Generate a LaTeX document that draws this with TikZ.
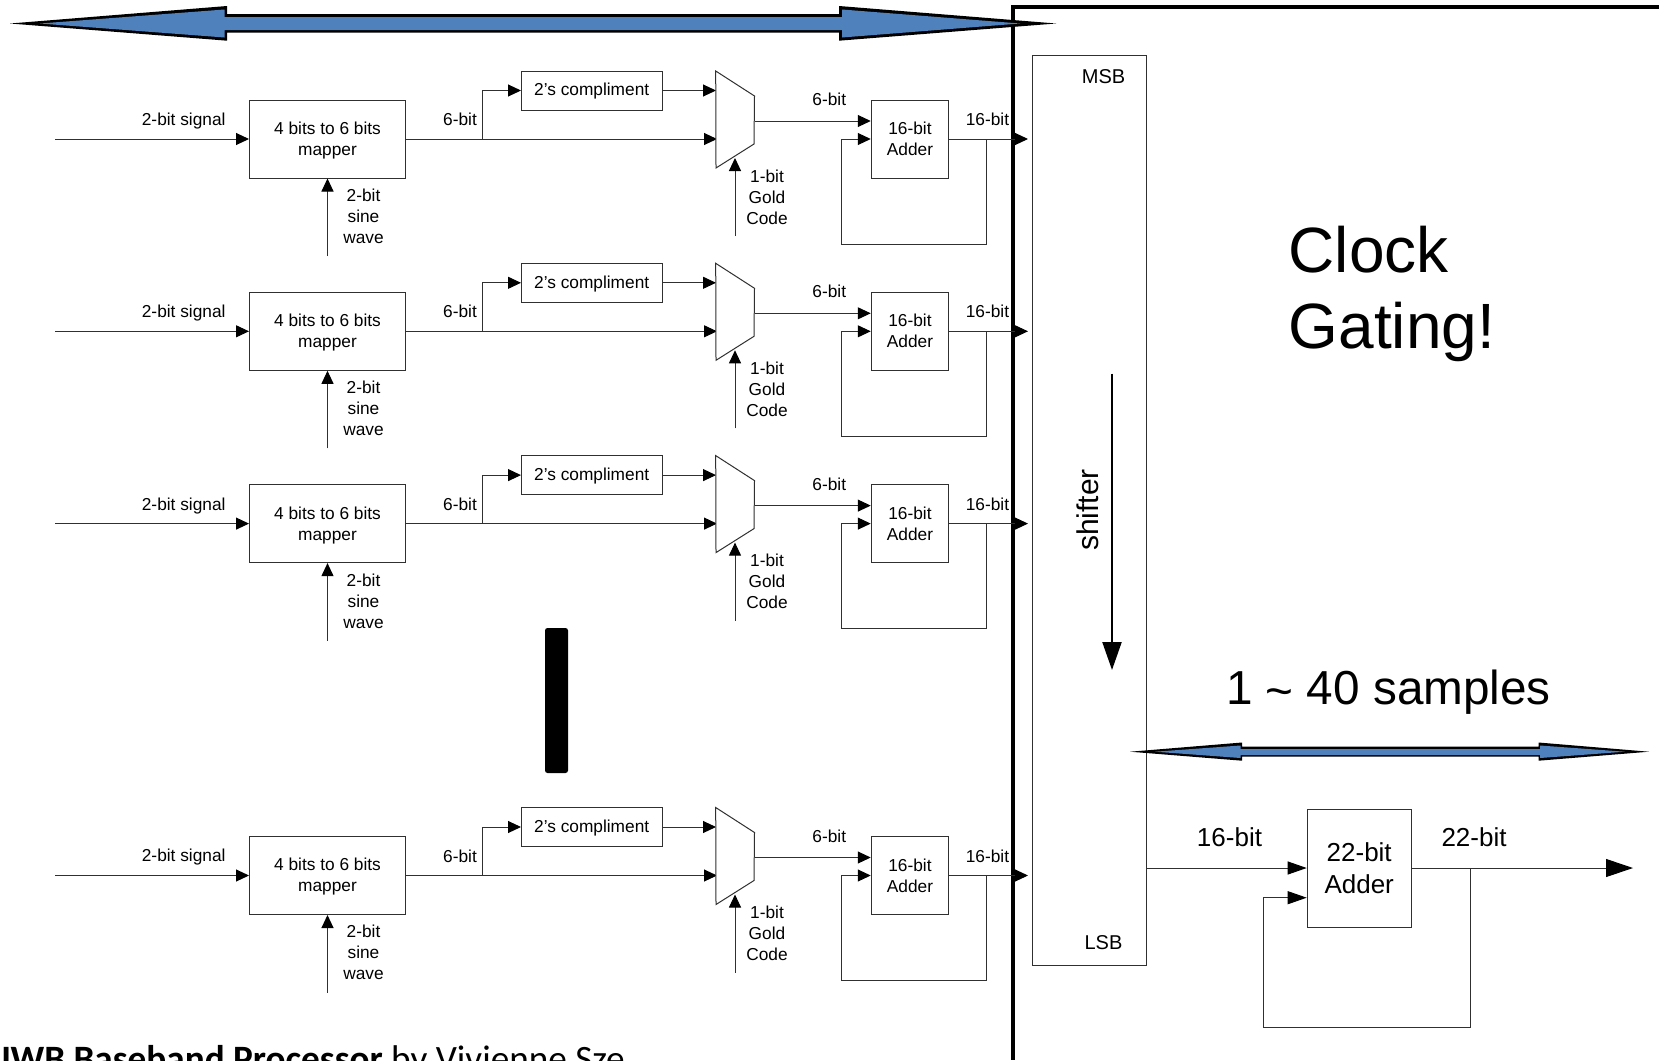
\documentclass[tikz,border=0pt]{standalone}
\usepackage{fontspec}
\setmainfont{Liberation Sans}
\newfontfamily\calfont{Carlito}
\usetikzlibrary{arrows.meta,calc}
\definecolor{arrowblue}{HTML}{4F81BD}
\definecolor{linegrey}{HTML}{303030}
\tikzset{
  blockbox/.style={draw=linegrey,line width=1pt,fill=white,inner sep=0pt,align=center,font=\fontsize{17.3}{21}\selectfont},
  lab/.style={inner sep=0pt,align=center,font=\fontsize{17.3}{21}\selectfont},
  midlab/.style={inner sep=0pt,align=center,font=\fontsize{26}{32}\selectfont},
  wire/.style={line width=1pt,draw=linegrey},
  arr/.style={wire,-{Triangle[length=13pt,width=12pt,black]}},
  bigarr/.style={line width=1pt,draw=linegrey,-{Triangle[length=27pt,width=18pt,black]}},
  heavy/.style={line width=3.5pt,draw=black},
}
\begin{document}
\begin{tikzpicture}[x=1pt,y=-1pt]
\useasboundingbox (0,0) rectangle (1659,1060);
\begin{scope}
\clip (0,0) rectangle (1659,1060);
% frame line
\coordinate (ftop) at (1013,7);
\coordinate (fright) at (1659,7);
\coordinate (fbot) at (1013,1060);
\draw[heavy] (fright) -- (ftop) -- (fbot);
% shifter
\node[blockbox,minimum width=114pt,minimum height=910pt] (shifter) at (1089,510.5) {};
\node[lab,font=\fontsize{20}{24}\selectfont] (msb) at (1103.5,77) {MSB};
\node[lab,font=\fontsize{20}{24}\selectfont] (lsb) at (1103.5,942.2) {LSB};
\node[inner sep=0pt,rotate=90,font=\fontsize{30}{36}\selectfont] (shiftlab) at (1088,510) {shifter};
\coordinate (sa) at (1112,373.5);
\coordinate (sb) at (1112,670);
\draw[line width=2.2pt,-{Triangle[length=28pt,width=19pt,black]}] (sa) -- (sb);
% rows
\foreach \r/\o in {1/0,2/192.3,3/384.6,4/736.5}{
\begin{scope}[shift={(0,\o)}]
  \coordinate (in\r) at (55,139);
  \node[blockbox,minimum width=156pt,minimum height=78pt] (map\r) at (327.5,139) {};
  \node[lab] (mapt\r) at (327.5,140.5) {4 bits to 6 bits\\mapper};
  \node[blockbox,minimum width=141pt,minimum height=39pt] (two\r) at (592,90.5) {};
  \node[lab] (twot\r) at (591.7,91.5) {2's compliment};
  \node[blockbox,minimum width=77.5pt,minimum height=78pt] (add\r) at (910,139) {16-bit\\Adder};
  \coordinate (j\r) at (482.6,139);
  \coordinate (m1\r) at (715.7,71);
  \coordinate (m2\r) at (754.5,96);
  \coordinate (m3\r) at (754,144);
  \coordinate (m4\r) at (716,168);
  \coordinate (ma\r) at (716,90.5);
  \coordinate (mb\r) at (717,139);
  \coordinate (mo\r) at (754.5,121);
  \coordinate (mg\r) at (735,158);
  \coordinate (gs\r) at (735,236);
  \coordinate (ss\r) at (327.5,256);
  \coordinate (fb\r) at (986,139);
  \coordinate (fc\r) at (986,244);
  \coordinate (fd\r) at (841.7,244);
  \coordinate (fe\r) at (841.7,139);
  \coordinate (sh\r) at (1028,139);
  \draw[arr] (in\r) -- (map\r.west);
  \draw[arr] (ss\r) -- (map\r.south);
  \draw[wire] (map\r.east) -- (j\r);
  \draw[arr] (j\r) |- (two\r.west);
  \draw[arr] (j\r) -- (mb\r);
  \draw[arr] (two\r.east) -- (ma\r);
  \draw[line width=1pt,draw=linegrey,fill=white] (m1\r) -- (m2\r) -- (m3\r) -- (m4\r) -- cycle;
  \draw[arr] (gs\r) -- (mg\r);
  \draw[arr] (mo\r) -- (add\r.west |- mo\r);
  \draw[arr] (fb\r) -- (fc\r) -- (fd\r) -- (fe\r) -- (add\r.west |- fe\r);
  \draw[arr] (add\r.east) -- (sh\r);
  \node[lab] (sig\r) at (183.7,121) {2-bit signal};
  \node[lab] (six\r) at (460,119.5) {6-bit};
  \node[lab] (sin\r) at (363.5,216.3) {2-bit\\sine\\wave};
  \node[lab] (gld\r) at (767,197) {1-bit\\Gold\\Code};
  \node[lab] (ots\r) at (829.3,99.5) {6-bit};
  \node[lab] (sxt\r) at (987.5,119.5) {16-bit};
\end{scope}
}
% dots bar
\node[fill=black,draw=none,rounded corners=2.5pt,minimum width=23pt,minimum height=145pt,inner sep=0pt] (bar) at (556.5,700.5) {};
% large arrow
\fill[black] (10,23.5) -- (227,6) -- (227,14) -- (839,14) -- (839,6) -- (1056,23.5) -- (839,40.7) -- (839,32.7) -- (227,32.7) -- (227,40.7) -- cycle;
\fill[arrowblue] (40,23.5) -- (224.5,9.5) -- (224.5,17) -- (842,17) -- (842,9.5) -- (1020,23.5) -- (842,37.5) -- (842,30) -- (224.5,30) -- (224.5,37.5) -- cycle;
% lower arrow
\fill[black] (1130,751.7) -- (1242,742.5) -- (1242,746.5) -- (1538.6,746.5) -- (1538.6,742.5) -- (1649,751.7) -- (1538.6,760.7) -- (1538.6,756.7) -- (1242,756.7) -- (1242,760.7) -- cycle;
\fill[arrowblue] (1155,751.7) -- (1240.5,745.5) -- (1240.5,749) -- (1540,749) -- (1540,745.5) -- (1625,751.7) -- (1540,758) -- (1540,755) -- (1240.5,755) -- (1240.5,758) -- cycle;
% lower adder
\node[blockbox,minimum width=104pt,minimum height=118pt,font=\fontsize{26}{32}\selectfont] (add) at (1359.2,868) {22-bit\\Adder};
\coordinate (o1) at (1146,868);
\coordinate (o2) at (1633,868);
\coordinate (lj) at (1470.5,868);
\coordinate (lb) at (1470.5,1027);
\coordinate (lc) at (1263.6,1027);
\coordinate (ld) at (1263.6,897.7);
\draw[arr,-{Triangle[length=19pt,width=13pt,black]}] (o1) -- (add.west);
\draw[bigarr] (add.east) -- (o2);
\draw[arr,-{Triangle[length=19pt,width=13pt,black]}] (lj) -- (lb) -- (lc) -- (ld) -- (add.west |- ld);
\node[midlab] (l16) at (1229.5,837) {16-bit};
\node[midlab] (l22) at (1474,837) {22-bit};
% big text
\node[inner sep=0pt,align=left,anchor=west,font=\fontsize{64}{76}\selectfont] (clock) at (1288.5,294) {Clock\\Gating!};
\node[inner sep=0pt,font=\fontsize{47.7}{56}\selectfont] (samples) at (1388.5,692.3) {1 \raisebox{-3pt}{\~{}} 40 samples};
% caption, cut by the page
\node[inner sep=0pt,anchor=base east,font=\fontsize{37.2}{44}\calfont\selectfont] (cap) at (625,1071.5) {\textbf{UWB Baseband Processor} by Vivienne Sze};
\end{scope}
\end{tikzpicture}
\end{document}
